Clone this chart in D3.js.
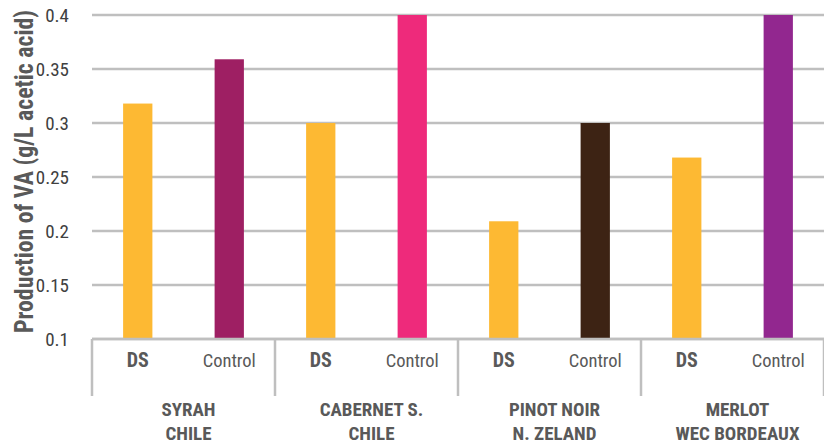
<!DOCTYPE html>
<html><head><meta charset="utf-8">
<script src="https://cdn.jsdelivr.net/npm/d3@7"></script>
<style>
body{margin:0;background:#fff;}
text{font-family:"Roboto Condensed","Liberation Sans Narrow",sans-serif;}
</style></head><body>
<svg id="c" width="824" height="441"></svg>
<script>
const categories = [["SYRAH","CHILE"],["CABERNET S.","CHILE"],["PINOT NOIR","N. ZELAND"],["MERLOT","WEC BORDEAUX"]];
const subgroups = ["DS","Control"];
const dsValues = [0.318, 0.30, 0.209, 0.268];
const controlValues = [0.359, 0.40, 0.30, 0.40];
const controlColors = ["#9E1F63","#EE2A7B","#3D2314","#92278F"];
const dsColor = "#FDB933";
const yTicks = [0.1,0.15,0.2,0.25,0.3,0.35,0.4];
const yTitle = "Production of VA (g/L acetic acid)";

const svg = d3.select("#c");
const mLeft = 92, mRight = 824, mTop = 15, mBottom = 339;
const x0 = d3.scaleBand().domain(d3.range(categories.length)).range([mLeft,mRight]).padding(0);
const x1 = d3.scaleBand().domain(subgroups).range([0,x0.bandwidth()]).paddingInner(0.68).paddingOuter(0.34);
const y = d3.scaleLinear().domain([0.1,0.4]).range([mBottom,mTop]);
const grey = "#bfbfbf";
const txt = "#595959";

// gridlines
svg.append("g").selectAll("line").data(yTicks).join("line")
  .attr("x1",mLeft).attr("x2",mRight).attr("y1",d=>y(d)).attr("y2",d=>y(d))
  .attr("stroke",grey).attr("stroke-width",2.5);

// y tick labels
svg.append("g").selectAll("text").data(yTicks).join("text")
  .attr("x",69).attr("y",d=>y(d)+7).attr("text-anchor","end")
  .attr("font-size",19).attr("fill","#404040").text(d=>d);

// y title
svg.append("text").attr("transform",`translate(32.5,${171.5}) rotate(-90)`)
  .attr("text-anchor","middle").attr("font-size",25).attr("font-weight","bold")
  .attr("textLength",323).attr("lengthAdjust","spacingAndGlyphs")
  .attr("fill",txt).text(yTitle);

// bars
const data = categories.map((c,i)=>({i, vals:[{k:"DS",v:dsValues[i],c:dsColor},{k:"Control",v:controlValues[i],c:controlColors[i]}]}));
const g = svg.append("g").selectAll("g").data(data).join("g").attr("transform",d=>`translate(${x0(d.i)},0)`);
g.selectAll("rect").data(d=>d.vals).join("rect")
  .attr("x",d=>x1(d.k)).attr("width",x1.bandwidth())
  .attr("y",d=>y(d.v)).attr("height",d=>y(0.1)-y(d.v)).attr("fill",d=>d.c);

// bottom axis line redrawn above bars
svg.append("line").attr("x1",mLeft).attr("x2",mRight).attr("y1",y(0.1)).attr("y2",y(0.1)).attr("stroke",grey).attr("stroke-width",2.5);

// separators
svg.append("g").selectAll("line").data(d3.range(categories.length+1)).join("line")
  .attr("x1",d=>mLeft+d*x0.bandwidth()).attr("x2",d=>mLeft+d*x0.bandwidth())
  .attr("y1",y(0.1)).attr("y2",396).attr("stroke",grey).attr("stroke-width",2.5);

// sub labels
g.selectAll("text.sub").data(d=>d.vals).join("text").attr("class","sub")
  .attr("x",d=>x1(d.k)+x1.bandwidth()/2).attr("y",367)
  .attr("text-anchor","middle").attr("font-size",d=>d.k==="DS"?20:18.5)
  .attr("font-weight",d=>d.k==="DS"?"bold":"normal").attr("fill",txt).text(d=>d.k);

// group labels
g.each(function(d){
  const t = d3.select(this).append("text").attr("text-anchor","middle").attr("font-size",19)
    .attr("font-weight","bold").attr("fill",txt);
  categories[d.i].forEach((line,j)=>{
    t.append("tspan").attr("x",x0.bandwidth()/2+5).attr("y",416+j*24).text(line);
  });
});
</script></body></html>
